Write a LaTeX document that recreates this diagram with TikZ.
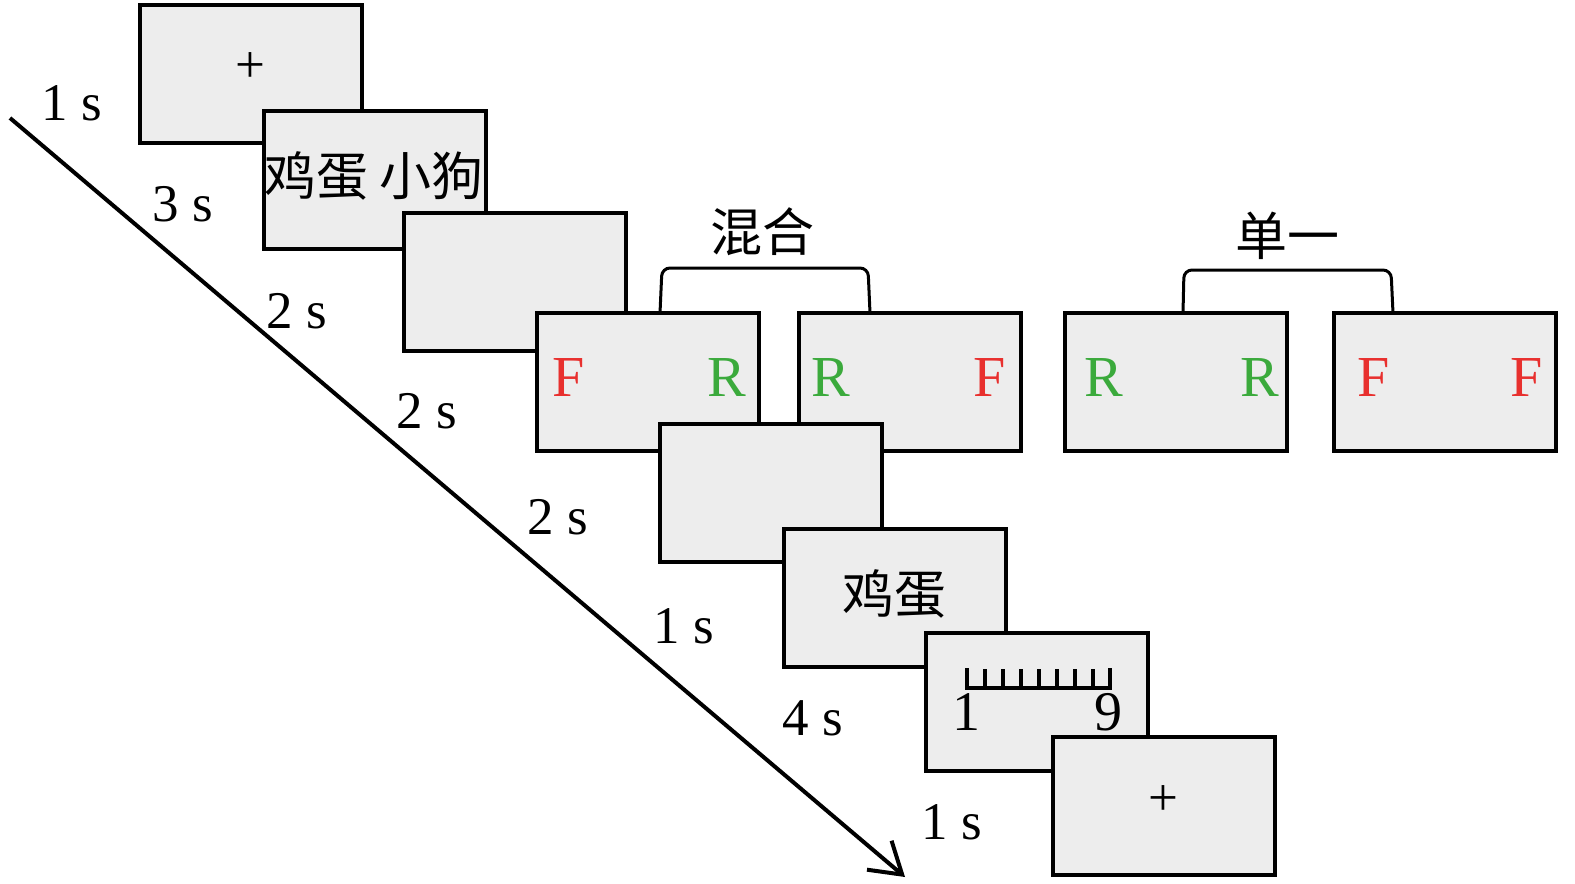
\documentclass[tikz,border=0pt]{standalone}
\usepackage{fontspec}
\setmainfont{Liberation Serif}
\newfontfamily\cjk{Noto Sans CJK SC}
\usetikzlibrary{arrows.meta}
\definecolor{boxgray}{HTML}{EDEDED}
\definecolor{fred}{HTML}{E8302E}
\definecolor{rgreen}{HTML}{3BAA3C}
\begin{document}
\begin{tikzpicture}[x=0.5bp,y=-0.5bp,
  screen/.style={draw=black,line width=2bp,fill=boxgray,minimum width=111bp,minimum height=69bp,inner sep=0pt,outer sep=0pt},
  tlabel/.style={font=\fontsize{26.5bp}{30bp}\selectfont,inner sep=0pt},
  letF/.style={font=\fontsize{29bp}{32bp}\selectfont,text=fred,inner sep=0pt},
  letR/.style={font=\fontsize{29bp}{32bp}\selectfont,text=rgreen,inner sep=0pt},
  cjktext/.style={font=\cjk\fontsize{26bp}{30bp}\selectfont,inner sep=0pt},
  bracket/.style={line width=1.5bp,rounded corners=4bp}]
\useasboundingbox (0,0) rectangle (1575,883);
% arrow
\coordinate (as) at (10,118);
\coordinate (ae) at (905,877);
\draw[line width=2bp,-{Straight Barb[length=15bp,width=19bp,line width=2bp]}] (as) -- (ae);
% time labels
\node[tlabel] (t1) at (72,103) {1 s};
\node[tlabel] (t2) at (183,204) {3 s};
\node[tlabel] (t3) at (297,311) {2 s};
\node[tlabel] (t4) at (427,411) {2 s};
\node[tlabel] (t5) at (558,517) {2 s};
\node[tlabel] (t6) at (684,626) {1 s};
\node[tlabel] (t7) at (813,718) {4 s};
\node[tlabel] (t8) at (952,822) {1 s};
% screens
\node[screen] (b1) at (251,73.5) {};
\node[tlabel] (p1) at (250,68) {+};
\node[screen] (b2) at (374.5,179.5) {};
\node[cjktext] (w2) at (374,176) {鸡蛋 小狗};
\node[screen] (b3) at (514.5,281.5) {};
\node[screen] (b4) at (648,382) {};
\node[screen] (b5) at (910,382) {};
\node[screen] (b6) at (1176,382) {};
\node[screen] (b7) at (1445,382) {};
\node[letF] (f4) at (569,378) {F};
\node[letR] (r4) at (727,378) {R};
\node[letR] (r5) at (831,378) {R};
\node[letF] (f5) at (990,378) {F};
\node[letR] (r6a) at (1104,378) {R};
\node[letR] (r6b) at (1260,378) {R};
\node[letF] (f7a) at (1374,378) {F};
\node[letF] (f7b) at (1527,378) {F};
\node[screen] (b8) at (771,492.5) {};
\node[screen] (b9) at (894.5,597.5) {};
\node[cjktext] (w9) at (894,594) {鸡蛋};
\node[screen] (b10) at (1037,702) {};
% scale
\coordinate (s0) at (967,668);
\draw[line width=2bp] (s0) -- (967,688) -- (1110,688) -- (1110,668);
\foreach \x in {985,1003,1021,1039,1057,1075,1093}{\draw[line width=2bp] (\x,688) -- (\x,669);}
\node[tlabel,font=\fontsize{28bp}{30bp}\selectfont] (n1) at (966,712) {1};
\node[tlabel,font=\fontsize{28bp}{30bp}\selectfont] (n9) at (1108,712) {9};
\node[screen] (b11) at (1164,805.5) {};
\node[tlabel] (p11) at (1163,801) {+};
% brackets and group labels
\draw[bracket] (b4.north -| 660,0) -- (662,268) -- (868,268) -- (b5.north -| 870,0);
\draw[bracket] (b6.north -| 1183,0) -- (1184,270) -- (1391,270) -- (b7.north -| 1393,0);
\node[cjktext] (g1) at (762,232) {混合};
\node[cjktext] (g2) at (1287,236) {单一};
\end{tikzpicture}
\end{document}
